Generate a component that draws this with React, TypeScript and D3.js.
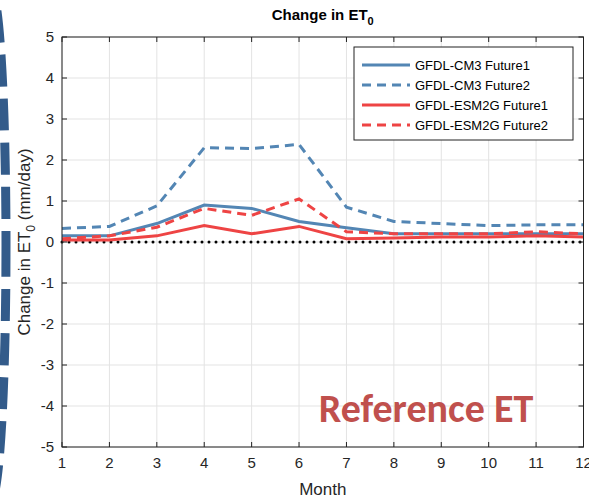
import React from 'react';
import * as d3 from 'd3';

const months = [1, 2, 3, 4, 5, 6, 7, 8, 9, 10, 11, 12];
const cm3F1 = [0.15, 0.15, 0.45, 0.9, 0.82, 0.5, 0.35, 0.2, 0.2, 0.2, 0.2, 0.2];
const cm3F2 = [0.33, 0.38, 0.88, 2.3, 2.28, 2.38, 0.85, 0.5, 0.45, 0.4, 0.42, 0.42];
const esmF1 = [0.05, 0.05, 0.15, 0.4, 0.2, 0.38, 0.08, 0.1, 0.12, 0.12, 0.15, 0.12];
const esmF2 = [0.08, 0.15, 0.36, 0.82, 0.65, 1.05, 0.25, 0.2, 0.2, 0.2, 0.25, 0.2];
const yTicks = [-5, -4, -3, -2, -1, 0, 1, 2, 3, 4, 5];

const series = [
  { name: 'GFDL-CM3 Future1', values: cm3F1, color: '#5386b4', dash: '' },
  { name: 'GFDL-CM3 Future2', values: cm3F2, color: '#5386b4', dash: '9,6' },
  { name: 'GFDL-ESM2G Future1', values: esmF1, color: '#ee4444', dash: '' },
  { name: 'GFDL-ESM2G Future2', values: esmF2, color: '#ee4444', dash: '9,6' },
];

export default function App() {
  const W = 589, H = 501;
  const L = 62, R = 583.5, T = 37, B = 447;
  const x = d3.scaleLinear().domain([1, 12]).range([L, R]);
  const y = d3.scaleLinear().domain([-5, 5]).range([B, T]);
  const line = d3.line<number>().x((_, i) => x(months[i])).y((d) => y(d));
  const font = 'Arial, "Liberation Sans", sans-serif';

  return (
    <svg width={W} height={H} style={{ position: 'absolute', left: 0, top: 0 }} fontFamily={font}>
      <rect width={W} height={H} fill="#fff" />
      {months.map((m) => (
        <line key={m} x1={x(m)} x2={x(m)} y1={T} y2={B} stroke="#e3e3e3" />
      ))}
      {yTicks.map((t) => (
        <line key={t} x1={L} x2={R} y1={y(t)} y2={y(t)} stroke="#e3e3e3" />
      ))}
      <line x1={L} x2={R} y1={y(0)} y2={y(0)} stroke="#000" strokeWidth={3} strokeDasharray="0,7" strokeLinecap="round" />
      {series.map((s) => (
        <path key={s.name} d={line(s.values) || ''} fill="none" stroke={s.color} strokeWidth={3} strokeDasharray={s.dash} />
      ))}
      <rect x={L} y={T} width={R - L} height={B - T} fill="none" stroke="#222" />
      {months.map((m) => (
        <g key={m}>
          <line x1={x(m)} x2={x(m)} y1={B} y2={B - 5} stroke="#222" />
          <line x1={x(m)} x2={x(m)} y1={T} y2={T + 5} stroke="#222" />
          <text x={x(m)} y={B + 21} textAnchor="middle" fontSize={15} fill="#262626">{m}</text>
        </g>
      ))}
      {yTicks.map((t) => (
        <g key={t}>
          <line x1={L} x2={L + 5} y1={y(t)} y2={y(t)} stroke="#222" />
          <line x1={R} x2={R - 5} y1={y(t)} y2={y(t)} stroke="#222" />
          <text x={L - 8} y={y(t) + 5} textAnchor="end" fontSize={15} fill="#262626">{t}</text>
        </g>
      ))}
      <ellipse cx={-9} cy={245} rx={15} ry={255} fill="none" stroke="#335b8a" strokeWidth={9} strokeDasharray="32,12" />
      <text x={(L + R) / 2} y={20} textAnchor="middle" fontSize={15} fontWeight="bold">
        Change in ET<tspan fontSize={11} dy={5}>0</tspan>
      </text>
      <text x={(L + R) / 2} y={495} textAnchor="middle" fontSize={17} fill="#262626">Month</text>
      <text transform={`translate(30,${y(0)}) rotate(-90)`} textAnchor="middle" fontSize={17} fill="#262626">
        Change in ET<tspan fontSize={12} dy={5}>0</tspan><tspan dy={-5}> (mm/day)</tspan>
      </text>
      <g>
        <rect x={354} y={47} width={219} height={93} fill="#fff" stroke="#222" />
        {series.map((s, i) => (
          <g key={s.name}>
            <line x1={362} x2={410} y1={65 + i * 20} y2={65 + i * 20} stroke={s.color} strokeWidth={3} strokeDasharray={s.dash} />
            <text x={415} y={70 + i * 20} fontSize={13} fill="#000">{s.name}</text>
          </g>
        ))}
      </g>
      <text x={426} y={422} textAnchor="middle" fontSize={40} fontWeight="bold" fill="#c0504d" fontFamily='Calibri, Carlito, "Open Sans", sans-serif'>Reference ET</text>
    </svg>
  );
}
